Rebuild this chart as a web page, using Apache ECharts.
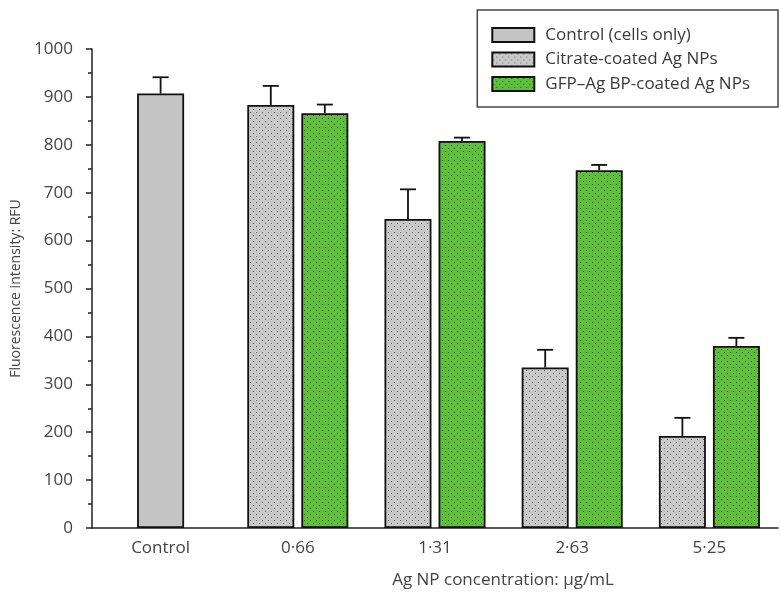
<!DOCTYPE html>
<html>
<head>
<meta charset="utf-8">
<script src="https://cdn.jsdelivr.net/npm/echarts@6/dist/echarts.min.js"></script>
<style>html,body{margin:0;padding:0;background:#fff}#c{width:781px;height:596px}</style>
</head>
<body>
<div id="c"></div>
<script>
// ---- data ----
const categories = ['Control', '0·66', '1·31', '2·63', '5·25'];
const seriesNames = ['Control (cells only)', 'Citrate-coated Ag NPs', 'GFP–Ag BP-coated Ag NPs'];
const controlValues = [907, null, null, null, null];
const controlErr = [34, null, null, null, null];
const citrateValues = [null, 883, 645, 335, 192];
const citrateErr = [null, 40, 62, 37, 38];
const gfpValues = [null, 866, 808, 747, 380];
const gfpErr = [null, 18, 7, 11, 17];
const yTicks = [0, 100, 200, 300, 400, 500, 600, 700, 800, 900, 1000];

// ---- patterns ----
function dotPattern(bg, dot) {
  const c = document.createElement('canvas');
  c.width = 6; c.height = 6;
  const g = c.getContext('2d');
  g.fillStyle = bg; g.fillRect(0, 0, 6, 6);
  g.fillStyle = dot;
  g.fillRect(1, 1, 1, 1);
  g.fillRect(4, 4, 1, 1);
  return c;
}
const greyPat = { image: dotPattern('#c9c9c9', '#5e5e5e'), repeat: 'repeat' };
const greenPat = { image: dotPattern('#5fbe3c', '#2c6420'), repeat: 'repeat' };

const FONT = 'Open Sans';
const BAR_W = 47;
const PAIR_OFF = 27;

function errItems(vals, errs, off) {
  const out = [];
  vals.forEach((v, i) => { if (v != null) out.push([i, v, v + errs[i], off]); });
  return out;
}
const errData = [].concat(
  errItems(controlValues, controlErr, 0),
  errItems(citrateValues, citrateErr, -PAIR_OFF),
  errItems(gfpValues, gfpErr, PAIR_OFF)
);

const chart = echarts.init(document.getElementById('c'), null, { renderer: 'canvas' });
chart.setOption({
  animation: false,
  backgroundColor: '#fff',
  textStyle: { fontFamily: FONT },
  grid: { left: 92, right: 3, top: 49, bottom: 68 },
  legend: {
    data: seriesNames,
    orient: 'vertical',
    right: 3, top: 10,
    padding: [16.5, 28, 14.5, 14],
    icon: 'rect',
    itemWidth: 42, itemHeight: 14, itemGap: 7.5,
    borderColor: '#444', borderWidth: 1.5,
    textStyle: { fontSize: 17, lineHeight: 17, color: '#3a3a3a', fontFamily: FONT, padding: [0, 0, 0, 6] }
  },
  xAxis: [{
    type: 'category', data: categories,
    axisLine: { lineStyle: { color: '#222', width: 1.5 } },
    axisTick: { show: false },
    axisLabel: { fontSize: 17, color: '#444', margin: 12, fontFamily: FONT },
    name: 'Ag NP concentration: µg/mL', nameLocation: 'middle', nameGap: 44,
    nameTextStyle: { fontSize: 17, color: '#444', fontFamily: FONT, padding: [0, 0, 0, 136] }
  }, {
    type: 'category', data: categories, show: false
  }],
  yAxis: {
    type: 'value', min: yTicks[0], max: yTicks[yTicks.length - 1], interval: 100,
    axisLine: { show: true, lineStyle: { color: '#222', width: 1.5 } },
    axisTick: { show: true, length: 6, lineStyle: { color: '#222', width: 1.5 } },
    minorTick: { show: true, splitNumber: 2, length: 4, lineStyle: { color: '#222', width: 1.5 } },
    splitLine: { show: false },
    axisLabel: { fontSize: 17, color: '#444', margin: 19, fontFamily: FONT, formatter: v => String(v) },
    name: 'Fluorescence intensity: RFU', nameLocation: 'middle', nameGap: 68,
    nameTextStyle: { fontSize: 14, color: '#444', fontFamily: FONT }
  },
  series: [{
    name: seriesNames[0], type: 'bar', xAxisIndex: 1, data: controlValues, barWidth: BAR_W,
    itemStyle: { color: '#c4c4c4', borderColor: '#111', borderWidth: 1.8 }
  }, {
    name: seriesNames[1], type: 'bar', xAxisIndex: 0, data: citrateValues, barWidth: BAR_W, barGap: '15%',
    itemStyle: { color: greyPat, borderColor: '#111', borderWidth: 1.8 }
  }, {
    name: seriesNames[2], type: 'bar', xAxisIndex: 0, data: gfpValues, barWidth: BAR_W, barGap: '15%',
    itemStyle: { color: greenPat, borderColor: '#111', borderWidth: 1.8 }
  }, {
    type: 'custom', xAxisIndex: 0, data: errData, z: 1,
    renderItem: function (params, api) {
      const top = api.coord([api.value(0), api.value(2)]);
      const base = api.coord([api.value(0), api.value(1)]);
      const x = top[0] + api.value(3);
      const cap = 8;
      return {
        type: 'group',
        children: [
          { type: 'line', shape: { x1: x, y1: base[1], x2: x, y2: top[1] }, style: { stroke: '#111', lineWidth: 1.8 } },
          { type: 'line', shape: { x1: x - cap, y1: top[1], x2: x + cap, y2: top[1] }, style: { stroke: '#111', lineWidth: 1.8 } }
        ]
      };
    }
  }]
});
</script>
</body>
</html>
